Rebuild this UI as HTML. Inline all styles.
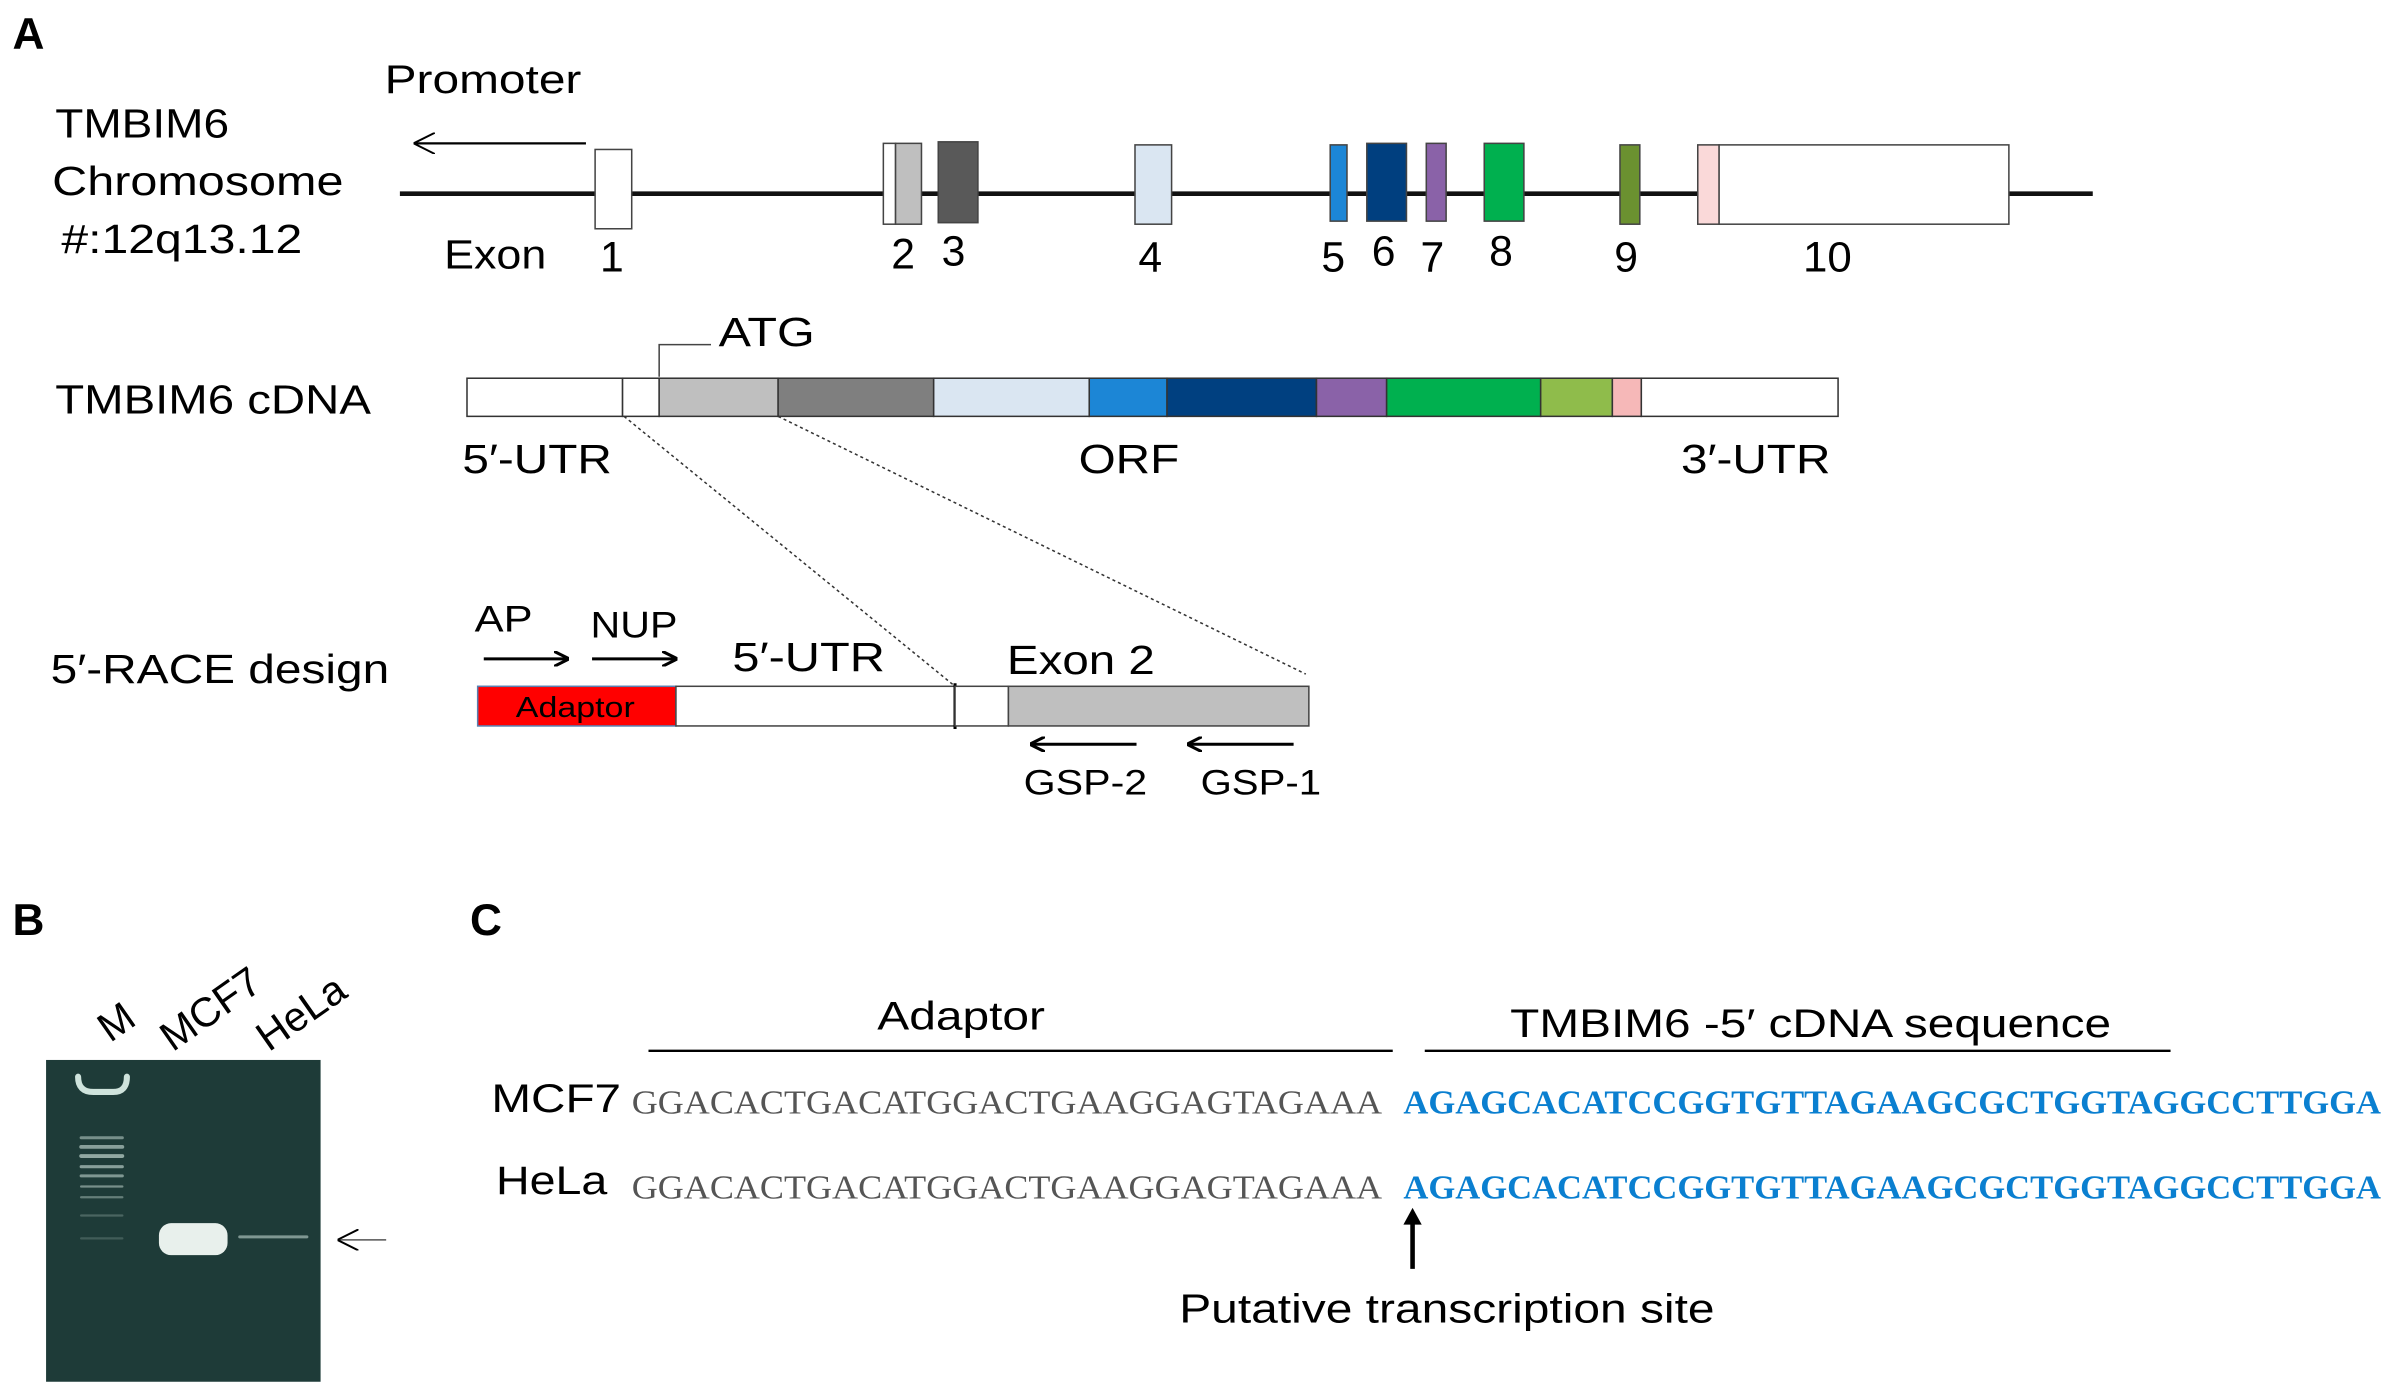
<!DOCTYPE html>
<html><head><style>html,body{margin:0;padding:0;background:#fff}svg{display:block}</style></head>
<body>
<svg width="2392" height="1397" viewBox="0 0 1568 916" xmlns="http://www.w3.org/2000/svg" font-family="Liberation Sans, sans-serif">
<defs>
<marker id="ah" markerWidth="10" markerHeight="10" refX="9" refY="5" orient="auto" markerUnits="userSpaceOnUse"><path d="M0,0 L10,5 L0,10" fill="none" stroke="#000" stroke-width="2"/></marker>
<marker id="ahT" markerWidth="14" markerHeight="14" refX="13" refY="7" orient="auto" markerUnits="userSpaceOnUse"><path d="M0,0 L14,7 L0,14" fill="none" stroke="#000" stroke-width="1.3"/></marker>
</defs>
<g lengthAdjust="spacingAndGlyphs">
<text x="8" y="32" font-size="29" font-weight="bold">A</text>
<text x="252" y="61" font-size="26" textLength="129" lengthAdjust="spacingAndGlyphs">Promoter</text>
<line x1="384" y1="94" x2="272" y2="94" stroke="#000" stroke-width="1.5" marker-end="url(#ahT)"/>
<text x="36" y="90" font-size="27" textLength="114" lengthAdjust="spacingAndGlyphs">TMBIM6</text>
<text x="34" y="128" font-size="27" textLength="191" lengthAdjust="spacingAndGlyphs">Chromosome</text>
<text x="40" y="166" font-size="27" textLength="158" lengthAdjust="spacingAndGlyphs">#:12q13.12</text>
<line x1="262" y1="127" x2="1372" y2="127" stroke="#111" stroke-width="3"/>
<g stroke="#444" stroke-width="1">
<rect x="390" y="98" width="24" height="52" fill="#fff"/>
<rect x="579" y="94" width="8" height="53" fill="#fff"/>
<rect x="587" y="94" width="17" height="53" fill="#bfbfbf"/>
<rect x="615" y="93" width="26" height="53" fill="#595959"/>
<rect x="744" y="95" width="24" height="52" fill="#dae6f2"/>
<rect x="872" y="95" width="11" height="50" fill="#1c86d6"/>
<rect x="896" y="94" width="26" height="51" fill="#003f7f"/>
<rect x="935" y="94" width="13" height="51" fill="#8a62a8"/>
<rect x="973" y="94" width="26" height="51" fill="#00b04f"/>
<rect x="1062" y="95" width="13" height="52" fill="#6b9130"/>
<rect x="1113" y="95" width="14" height="52" fill="#fad9d9"/>
<rect x="1127" y="95" width="190" height="52" fill="#fff"/>
</g>
<g font-size="28" text-anchor="middle">
<text x="401" y="178">1</text>
<text x="592" y="176">2</text><text x="625" y="174">3</text><text x="754" y="178">4</text>
<text x="874" y="178">5</text><text x="907" y="174">6</text><text x="939" y="178">7</text>
<text x="984" y="174">8</text><text x="1066" y="178">9</text><text x="1198" y="178" textLength="32" lengthAdjust="spacingAndGlyphs">10</text>
</g>
<text x="291" y="176" font-size="27" textLength="67" lengthAdjust="spacingAndGlyphs">Exon</text>
<text x="471" y="227" font-size="27" textLength="63" lengthAdjust="spacingAndGlyphs">ATG</text>
<polyline points="432,247 432,226 466,226" fill="none" stroke="#444" stroke-width="1"/>
<text x="36" y="271" font-size="27" textLength="207" lengthAdjust="spacingAndGlyphs">TMBIM6 cDNA</text>
<g stroke="#333" stroke-width="1">
<rect x="306" y="248" width="102" height="25" fill="#fff"/>
<rect x="408" y="248" width="24" height="25" fill="#fff"/>
<rect x="432" y="248" width="78" height="25" fill="#bfbfbf"/>
<rect x="510" y="248" width="102" height="25" fill="#7f7f7f"/>
<rect x="612" y="248" width="102" height="25" fill="#dae6f2"/>
<rect x="714" y="248" width="51" height="25" fill="#1c86d6"/>
<rect x="765" y="248" width="98" height="25" fill="#004080"/>
<rect x="863" y="248" width="46" height="25" fill="#8a62a8"/>
<rect x="909" y="248" width="101" height="25" fill="#00b04f"/>
<rect x="1010" y="248" width="47" height="25" fill="#8fbc4b"/>
<rect x="1057" y="248" width="19" height="25" fill="#f6b8b8"/>
<rect x="1076" y="248" width="129" height="25" fill="#fff"/>
</g>
<text x="303" y="310" font-size="27" textLength="98" lengthAdjust="spacingAndGlyphs">5′-UTR</text>
<text x="707" y="310" font-size="27" textLength="66" lengthAdjust="spacingAndGlyphs">ORF</text>
<text x="1102" y="310" font-size="27" textLength="98" lengthAdjust="spacingAndGlyphs">3′-UTR</text>
<line x1="409" y1="273" x2="626" y2="450" stroke="#333" stroke-width="1" stroke-dasharray="2,2"/>
<line x1="510" y1="273" x2="856" y2="442" stroke="#333" stroke-width="1" stroke-dasharray="2,2"/>
<text x="33" y="448" font-size="27" textLength="222" lengthAdjust="spacingAndGlyphs">5′-RACE design</text>
<text x="311" y="414" font-size="24" textLength="38" lengthAdjust="spacingAndGlyphs">AP</text>
<text x="387" y="418" font-size="24" textLength="57" lengthAdjust="spacingAndGlyphs">NUP</text>
<line x1="317" y1="432" x2="372" y2="432" stroke="#000" stroke-width="2" marker-end="url(#ah)"/>
<line x1="388" y1="432" x2="443" y2="432" stroke="#000" stroke-width="2" marker-end="url(#ah)"/>
<text x="480" y="440" font-size="27" textLength="100" lengthAdjust="spacingAndGlyphs">5′-UTR</text>
<text x="660" y="442" font-size="27" textLength="97" lengthAdjust="spacingAndGlyphs">Exon 2</text>
<rect x="313" y="450" width="130" height="26" fill="#ff0000" stroke="#5a7fb0" stroke-width="1"/>
<text x="338" y="470" font-size="19" textLength="78" lengthAdjust="spacingAndGlyphs">Adaptor</text>
<rect x="443" y="450" width="183" height="26" fill="#fff" stroke="#444" stroke-width="1"/>
<line x1="626" y1="448" x2="626" y2="478" stroke="#000" stroke-width="2"/>
<rect x="626" y="450" width="35" height="26" fill="#fff" stroke="#444" stroke-width="1"/>
<rect x="661" y="450" width="197" height="26" fill="#bfbfbf" stroke="#444" stroke-width="1"/>
<line x1="745" y1="488" x2="676" y2="488" stroke="#000" stroke-width="2" marker-end="url(#ah)"/>
<line x1="848" y1="488" x2="779" y2="488" stroke="#000" stroke-width="2" marker-end="url(#ah)"/>
<text x="671" y="521" font-size="23" textLength="81" lengthAdjust="spacingAndGlyphs">GSP-2</text>
<text x="787" y="521" font-size="23" textLength="79" lengthAdjust="spacingAndGlyphs">GSP-1</text>

<text x="8" y="613" font-size="29" font-weight="bold">B</text>
<g font-size="27">
<text transform="translate(72,684) rotate(-35)">M</text>
<text transform="translate(113,690) rotate(-35)">MCF7</text>
<text transform="translate(176,690) rotate(-35)">HeLa</text>
</g>
<rect x="30" y="695" width="180" height="211" fill="#1e3b38"/>
<g fill="none" stroke="#cfe3dc" stroke-linecap="round">
<path d="M51,706 Q51,716 61,716 L74,716 Q83,716 83,706" stroke-width="4"/>
<line x1="53" y1="746" x2="80" y2="746" stroke-width="2" opacity="0.5"/>
<line x1="53" y1="752" x2="80" y2="752" stroke-width="2.5" opacity="0.6"/>
<line x1="53" y1="758" x2="80" y2="758" stroke-width="2.5" opacity="0.65"/>
<line x1="53" y1="765" x2="80" y2="765" stroke-width="2" opacity="0.6"/>
<line x1="53" y1="771" x2="80" y2="771" stroke-width="2" opacity="0.55"/>
<line x1="53" y1="778" x2="80" y2="778" stroke-width="1.5" opacity="0.5"/>
<line x1="53" y1="785" x2="80" y2="785" stroke-width="1.5" opacity="0.4"/>
<line x1="53" y1="797" x2="80" y2="797" stroke-width="1.5" opacity="0.25"/>
<line x1="53" y1="812" x2="80" y2="812" stroke-width="1.5" opacity="0.2"/>
<line x1="157" y1="811" x2="201" y2="811" stroke-width="2" opacity="0.55"/>
</g>
<rect x="104" y="802" width="45" height="21" rx="8" fill="#e8f0ec"/>
<line x1="253" y1="813" x2="222" y2="813" stroke="#555" stroke-width="1" marker-end="url(#ahT)"/>

<text x="308" y="613" font-size="29" font-weight="bold">C</text>
<text x="575" y="675" font-size="26" textLength="110" lengthAdjust="spacingAndGlyphs">Adaptor</text>
<text x="990" y="680" font-size="26" textLength="394" lengthAdjust="spacingAndGlyphs">TMBIM6  -5′ cDNA sequence</text>
<line x1="425" y1="689" x2="913" y2="689" stroke="#000" stroke-width="1.5"/>
<line x1="934" y1="689" x2="1423" y2="689" stroke="#000" stroke-width="1.5"/>
<text x="322" y="729" font-size="26" textLength="85" lengthAdjust="spacingAndGlyphs">MCF7</text>
<text x="325" y="783" font-size="26" textLength="73" lengthAdjust="spacingAndGlyphs">HeLa</text>
<g font-family="Liberation Serif, serif" font-size="22" fill="#555">
<text x="414" y="730" textLength="492" lengthAdjust="spacingAndGlyphs">GGACACTGACATGGACTGAAGGAGTAGAAA</text>
<text x="414" y="786" textLength="492" lengthAdjust="spacingAndGlyphs">GGACACTGACATGGACTGAAGGAGTAGAAA</text>
</g>
<g font-family="Liberation Serif, serif" font-size="22" font-weight="bold" fill="#0a7fd0">
<text x="920" y="730" textLength="641" lengthAdjust="spacingAndGlyphs">AGAGCACATCCGGTGTTAGAAGCGCTGGTAGGCCTTGGA</text>
<text x="920" y="786" textLength="641" lengthAdjust="spacingAndGlyphs">AGAGCACATCCGGTGTTAGAAGCGCTGGTAGGCCTTGGA</text>
</g>
<line x1="926" y1="832" x2="926" y2="796" stroke="#000" stroke-width="3"/>
<path d="M920,803 L926,792 L932,803 Z" fill="#000"/>
<text x="773" y="867" font-size="27" textLength="351" lengthAdjust="spacingAndGlyphs">Putative transcription site</text>
</g>
</svg>
</body></html>
